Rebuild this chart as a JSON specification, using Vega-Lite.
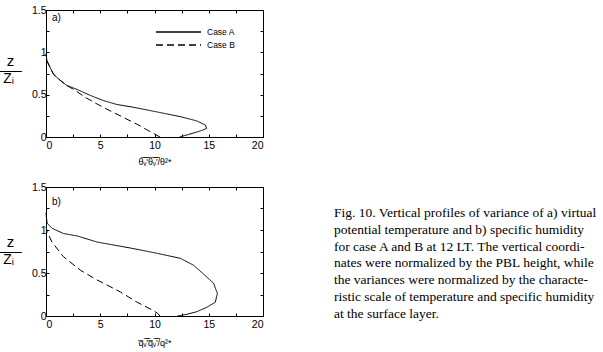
{
  "$schema": "https://vega.github.io/schema/vega-lite/v6.json",
  "padding": {"left": 2, "top": 4, "right": 0, "bottom": 0},
  "config": {
    "view": {"stroke": "black", "strokeWidth": 1},
    "axis": {"grid": false, "domainColor": "black", "tickColor": "black", "labelColor": "black", "labelFont": "Liberation Sans", "labelFontSize": 10.5, "titleFont": "Liberation Sans", "titleFontWeight": "normal", "titleColor": "black", "tickSize": -3, "labelPadding": 4}
  },
  "datasets": {
    "curves": [
      {"p": "a", "c": "Case A", "i": 0, "x": 12.3, "y": 0},
      {"p": "a", "c": "Case A", "i": 1, "x": 13.15, "y": 0.03},
      {"p": "a", "c": "Case A", "i": 2, "x": 14.2, "y": 0.07},
      {"p": "a", "c": "Case A", "i": 3, "x": 14.8, "y": 0.1},
      {"p": "a", "c": "Case A", "i": 4, "x": 14.7, "y": 0.14},
      {"p": "a", "c": "Case A", "i": 5, "x": 13.9, "y": 0.19},
      {"p": "a", "c": "Case A", "i": 6, "x": 12.4, "y": 0.24},
      {"p": "a", "c": "Case A", "i": 7, "x": 10.85, "y": 0.28},
      {"p": "a", "c": "Case A", "i": 8, "x": 9.3, "y": 0.32},
      {"p": "a", "c": "Case A", "i": 9, "x": 8.1, "y": 0.35},
      {"p": "a", "c": "Case A", "i": 10, "x": 6.5, "y": 0.385},
      {"p": "a", "c": "Case A", "i": 11, "x": 5.3, "y": 0.43},
      {"p": "a", "c": "Case A", "i": 12, "x": 4.1, "y": 0.49},
      {"p": "a", "c": "Case A", "i": 13, "x": 2.9, "y": 0.56},
      {"p": "a", "c": "Case A", "i": 14, "x": 1.9, "y": 0.61},
      {"p": "a", "c": "Case A", "i": 15, "x": 1.3, "y": 0.67},
      {"p": "a", "c": "Case A", "i": 16, "x": 0.7, "y": 0.74},
      {"p": "a", "c": "Case A", "i": 17, "x": 0.34, "y": 0.83},
      {"p": "a", "c": "Case A", "i": 18, "x": 0.09, "y": 0.9},
      {"p": "a", "c": "Case A", "i": 19, "x": 0, "y": 0.98},
      {"p": "a", "c": "Case B", "i": 0, "x": 10.5, "y": 0},
      {"p": "a", "c": "Case B", "i": 1, "x": 9.95, "y": 0.04},
      {"p": "a", "c": "Case B", "i": 2, "x": 9.3, "y": 0.085},
      {"p": "a", "c": "Case B", "i": 3, "x": 8.4, "y": 0.15},
      {"p": "a", "c": "Case B", "i": 4, "x": 7.15, "y": 0.23},
      {"p": "a", "c": "Case B", "i": 5, "x": 5.9, "y": 0.31},
      {"p": "a", "c": "Case B", "i": 6, "x": 4.7, "y": 0.39},
      {"p": "a", "c": "Case B", "i": 7, "x": 3.6, "y": 0.47},
      {"p": "a", "c": "Case B", "i": 8, "x": 2.7, "y": 0.55},
      {"p": "a", "c": "Case B", "i": 9, "x": 1.9, "y": 0.61},
      {"p": "a", "c": "Case B", "i": 10, "x": 1.3, "y": 0.67},
      {"p": "a", "c": "Case B", "i": 11, "x": 0.7, "y": 0.74},
      {"p": "a", "c": "Case B", "i": 12, "x": 0.34, "y": 0.83},
      {"p": "a", "c": "Case B", "i": 13, "x": 0.09, "y": 0.9},
      {"p": "a", "c": "Case B", "i": 14, "x": 0, "y": 0.98},
      {"p": "b", "c": "Case A", "i": 0, "x": 12.1, "y": 0},
      {"p": "b", "c": "Case A", "i": 1, "x": 13.0, "y": 0.02},
      {"p": "b", "c": "Case A", "i": 2, "x": 13.9, "y": 0.05},
      {"p": "b", "c": "Case A", "i": 3, "x": 14.8, "y": 0.1},
      {"p": "b", "c": "Case A", "i": 4, "x": 15.6, "y": 0.16},
      {"p": "b", "c": "Case A", "i": 5, "x": 15.8, "y": 0.26},
      {"p": "b", "c": "Case A", "i": 6, "x": 15.45, "y": 0.38},
      {"p": "b", "c": "Case A", "i": 7, "x": 14.5, "y": 0.49},
      {"p": "b", "c": "Case A", "i": 8, "x": 13.6, "y": 0.59},
      {"p": "b", "c": "Case A", "i": 9, "x": 12.4, "y": 0.67},
      {"p": "b", "c": "Case A", "i": 10, "x": 10.2, "y": 0.73},
      {"p": "b", "c": "Case A", "i": 11, "x": 7.8, "y": 0.79},
      {"p": "b", "c": "Case A", "i": 12, "x": 4.7, "y": 0.86},
      {"p": "b", "c": "Case A", "i": 13, "x": 2.9, "y": 0.93},
      {"p": "b", "c": "Case A", "i": 14, "x": 1.6, "y": 0.96},
      {"p": "b", "c": "Case A", "i": 15, "x": 0.55, "y": 1.02},
      {"p": "b", "c": "Case A", "i": 16, "x": 0.1, "y": 1.08},
      {"p": "b", "c": "Case A", "i": 17, "x": 0.03, "y": 1.16},
      {"p": "b", "c": "Case A", "i": 18, "x": 0, "y": 1.2},
      {"p": "b", "c": "Case B", "i": 0, "x": 10.5, "y": 0},
      {"p": "b", "c": "Case B", "i": 1, "x": 10.3, "y": 0.03},
      {"p": "b", "c": "Case B", "i": 2, "x": 9.8, "y": 0.07},
      {"p": "b", "c": "Case B", "i": 3, "x": 8.4, "y": 0.16},
      {"p": "b", "c": "Case B", "i": 4, "x": 6.85, "y": 0.28},
      {"p": "b", "c": "Case B", "i": 5, "x": 4.7, "y": 0.42},
      {"p": "b", "c": "Case B", "i": 6, "x": 3.2, "y": 0.53},
      {"p": "b", "c": "Case B", "i": 7, "x": 1.6, "y": 0.69},
      {"p": "b", "c": "Case B", "i": 8, "x": 0.55, "y": 0.86},
      {"p": "b", "c": "Case B", "i": 9, "x": 0.1, "y": 0.98},
      {"p": "b", "c": "Case B", "i": 10, "x": 0, "y": 1.04}
    ],
    "labels": [
      {"p": "a", "label": "a)", "x": 0.55, "y": 1.4},
      {"p": "b", "label": "b)", "x": 0.55, "y": 1.33}
    ],
    "caption": [
      {"line": 0, "x": 0, "text": "Fig. 10. Vertical profiles of variance of a) virtual"},
      {"line": 1, "x": 0, "text": "potential temperature and b) specific humidity"},
      {"line": 2, "x": 0, "text": "for case A and B at 12 LT. The vertical coordi-"},
      {"line": 3, "x": 0, "text": "nates were normalized by the PBL height, while"},
      {"line": 4, "x": 0, "text": "the variances were normalized by the characte-"},
      {"line": 5, "x": 0, "text": "ristic scale of temperature and specific humidity"},
      {"line": 6, "x": 0, "text": "at the surface layer."}
    ]
  },
  "resolve": {"legend": {"strokeDash": "independent"}},
  "spacing": 70,
  "hconcat": [
    {
      "spacing": 14,
      "resolve": {"legend": {"strokeDash": "independent"}},
      "vconcat": [
        {
          "width": 217,
          "height": 127,
          "resolve": {"axis": {"x": "independent", "y": "independent"}},
          "layer": [
            {
              "data": {"name": "curves"},
              "transform": [{"filter": "datum.p === 'a'"}],
              "mark": {"type": "line", "strokeWidth": 1, "color": "black"},
              "encoding": {
                "x": {"field": "x", "type": "quantitative", "scale": {"domain": [0, 20], "nice": false},
                  "axis": {"values": [0, 2.5, 5, 7.5, 10, 12.5, 15, 17.5, 20], "labelExpr": "datum.value % 5 === 0 ? format(datum.value, '~g') : ''", "labelPadding": 6,
                    "title": "\u03b8\u0305\u1d65\u0305'\u0305\u03b8\u0305\u1d65\u0305'\u0305/\u03b8\u00b2*", "titleFontSize": 9, "titlePadding": 7}},
                "y": {"field": "y", "type": "quantitative", "scale": {"domain": [0, 1.5], "nice": false},
                  "axis": {"values": [0, 0.25, 0.5, 0.75, 1, 1.25, 1.5], "labelExpr": "datum.value % 0.5 === 0 ? format(datum.value, '~g') : ''", "labelPadding": 3,
                    "title": "z", "titleAngle": 0, "titleX": -36, "titleY": 50, "titleAlign": "center", "titleBaseline": "middle", "titleFontSize": 15}},
                "order": {"field": "i", "type": "quantitative"},
                "strokeDash": {"field": "c", "type": "nominal", "scale": {"domain": ["Case A", "Case B"], "range": [[1, 0], [7, 4]]},
                  "legend": {"orient": "none", "legendX": 124, "legendY": 13.5, "title": null, "symbolType": "M-3,0H3", "symbolSize": 225, "symbolStrokeWidth": 1.5, "symbolStrokeColor": "black", "symbolFillColor": "transparent", "rowPadding": -1, "labelFontSize": 8.5, "labelFont": "Liberation Sans", "labelColor": "black", "labelOffset": 20}}
              }
            },
            {
              "data": {"name": "labels"},
              "transform": [{"filter": "datum.p === 'a'"}],
              "mark": {"type": "text", "align": "left", "baseline": "middle", "fontSize": 10, "font": "Liberation Sans", "color": "black"},
              "encoding": {
                "x": {"field": "x", "type": "quantitative", "scale": {"domain": [0, 20], "nice": false}, "axis": {"orient": "top", "labels": false, "title": null, "values": [0, 2.5, 5, 7.5, 10, 12.5, 15, 17.5, 20]}},
                "y": {"field": "y", "type": "quantitative", "scale": {"domain": [0, 1.5], "nice": false}, "axis": {"orient": "right", "labels": false, "values": [0, 0.25, 0.5, 0.75, 1, 1.25, 1.5],
                  "title": "\u00a0\u0305Z\u0305\u1d62\u0305\u00a0\u0305", "titleAngle": 0, "titleX": -253, "titleY": 68, "titleAlign": "center", "titleBaseline": "middle", "titleFontSize": 14}},
                "text": {"field": "label"}
              }
            }
          ]
        },
        {
          "width": 217,
          "height": 129,
          "resolve": {"axis": {"x": "independent", "y": "independent"}},
          "layer": [
            {
              "data": {"name": "curves"},
              "transform": [{"filter": "datum.p === 'b'"}],
              "mark": {"type": "line", "strokeWidth": 1, "color": "black"},
              "encoding": {
                "x": {"field": "x", "type": "quantitative", "scale": {"domain": [0, 20], "nice": false},
                  "axis": {"values": [0, 2.5, 5, 7.5, 10, 12.5, 15, 17.5, 20], "labelExpr": "datum.value % 5 === 0 ? format(datum.value, '~g') : ''", "labelPadding": 6,
                    "title": "q\u0305\u1d65\u0305'\u0305q\u0305\u1d65\u0305'\u0305/q\u00b2*", "titleFontSize": 9, "titlePadding": 9}},
                "y": {"field": "y", "type": "quantitative", "scale": {"domain": [0, 1.5], "nice": false},
                  "axis": {"values": [0, 0.25, 0.5, 0.75, 1, 1.25, 1.5], "labelExpr": "datum.value % 0.5 === 0 ? format(datum.value, '~g') : ''", "labelPadding": 3,
                    "title": "z", "titleAngle": 0, "titleX": -36, "titleY": 54, "titleAlign": "center", "titleBaseline": "middle", "titleFontSize": 15}},
                "order": {"field": "i", "type": "quantitative"},
                "strokeDash": {"field": "c", "type": "nominal", "scale": {"domain": ["Case A", "Case B"], "range": [[1, 0], [7, 4]]}, "legend": null}
              }
            },
            {
              "data": {"name": "labels"},
              "transform": [{"filter": "datum.p === 'b'"}],
              "mark": {"type": "text", "align": "left", "baseline": "middle", "fontSize": 10, "font": "Liberation Sans", "color": "black"},
              "encoding": {
                "x": {"field": "x", "type": "quantitative", "scale": {"domain": [0, 20], "nice": false}, "axis": {"orient": "top", "labels": false, "title": null, "values": [0, 2.5, 5, 7.5, 10, 12.5, 15, 17.5, 20]}},
                "y": {"field": "y", "type": "quantitative", "scale": {"domain": [0, 1.5], "nice": false}, "axis": {"orient": "right", "labels": false, "values": [0, 0.25, 0.5, 0.75, 1, 1.25, 1.5],
                  "title": "\u00a0\u0305Z\u0305\u1d62\u0305\u00a0\u0305", "titleAngle": 0, "titleX": -253, "titleY": 72, "titleAlign": "center", "titleBaseline": "middle", "titleFontSize": 14}},
                "text": {"field": "label"}
              }
            }
          ]
        }
      ]
    },
    {
      "width": 268,
      "height": 340,
      "view": {"stroke": null},
      "data": {"name": "caption"},
      "mark": {"type": "text", "align": "left", "baseline": "alphabetic", "font": "Liberation Serif", "fontSize": 13.5, "color": "black"},
      "encoding": {
        "x": {"field": "x", "type": "quantitative", "scale": {"domain": [0, 1]}, "axis": null},
        "y": {"field": "line", "type": "quantitative", "scale": {"domain": [7.917, -12.321], "nice": false, "zero": false}, "axis": null},
        "text": {"field": "text"}
      }
    }
  ]
}
